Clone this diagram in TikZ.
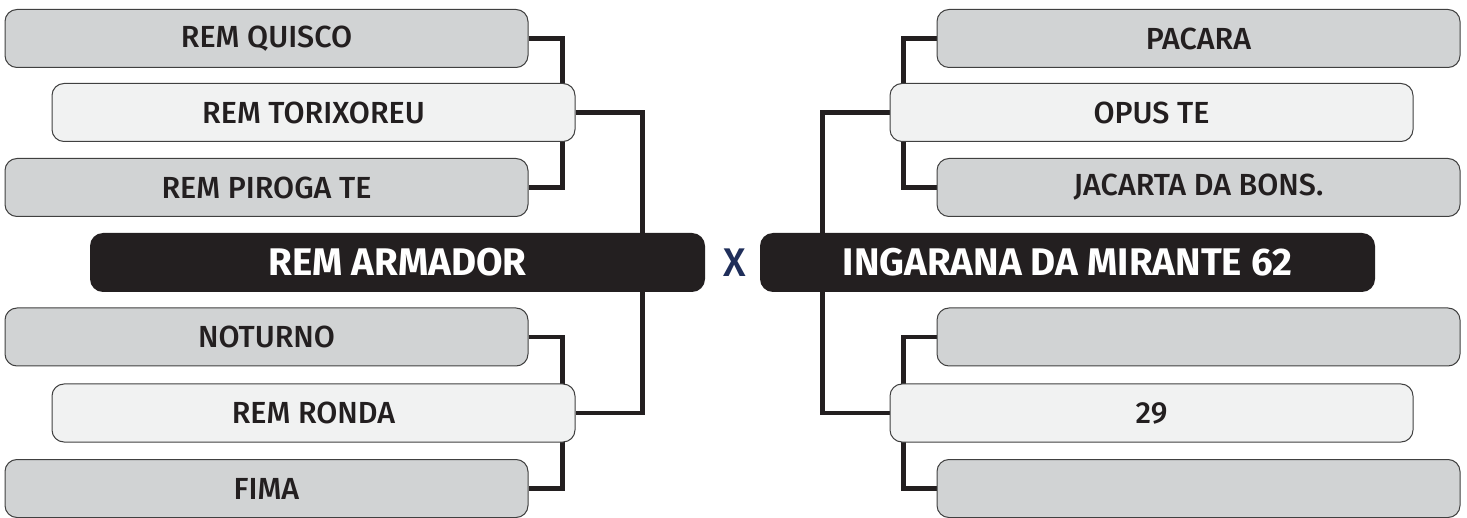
\documentclass[tikz,border=0pt]{standalone}
\usepackage{fontspec}
\setmainfont{Fira Sans}[UprightFont={* Medium},BoldFont={* Bold}]
\usetikzlibrary{positioning}
\usetikzlibrary{backgrounds}
\definecolor{cinza}{HTML}{D1D3D4}
\definecolor{claro}{HTML}{F1F2F2}
\definecolor{preto}{HTML}{231F20}
\definecolor{marinho}{HTML}{1F2E5A}
\tikzset{
  caixa/.style={draw=black!75,line width=1pt,rounded corners=12pt,
    minimum width=523pt,minimum height=58pt,inner sep=0pt,
    font=\fontsize{30.5}{35}\selectfont,text=preto},
  cinzabox/.style={caixa,fill=cinza},
  clarobox/.style={caixa,fill=claro},
  finalbox/.style={rounded corners=13pt,fill=preto,minimum width=615pt,
    minimum height=59pt,inner sep=0pt,text=white,
    font=\fontsize{38.5}{44}\selectfont\bfseries},
  chave/.style={preto,line width=4.5pt}
}

\begin{document}
\begin{tikzpicture}[x=1pt,y=-1pt]
  \useasboundingbox (0,0) rectangle (1467,518);
  % lado esquerdo
  \node[cinzabox] (quisco) at (266.5,38.5) {REM QUISCO};
  \node[clarobox] (torixoreu) at (313.5,112.5) {REM TORIXOREU};
  \node[cinzabox] (piroga) at (266.5,187.5) {REM PIROGA TE};
  \node[finalbox] (armador) at (397.5,262.5) {REM ARMADOR};
  \node[cinzabox] (noturno) at (266.5,337) {NOTURNO};
  \node[clarobox] (ronda) at (313.5,413) {REM RONDA};
  \node[cinzabox] (fima) at (266.5,488.5) {FIMA};
  % lado direito
  \node[cinzabox] (pacara) at (1198.5,38.5) {PACARA};
  \node[clarobox] (opus) at (1151.5,112.5) {OPUS TE};
  \node[cinzabox] (jacarta) at (1198.5,187.5) {JACARTA DA BONS.};
  \node[finalbox] (ingarana) at (1067.5,262.5) {INGARANA DA MIRANTE 62};
  \node[cinzabox] (vazioA) at (1198.5,337) {};
  \node[clarobox] (vintenove) at (1151.5,413) {29};
  \node[cinzabox] (vazioB) at (1198.5,488.5) {};
  \node[text=marinho,font=\fontsize{40}{44}\selectfont] (versus) at (734.5,263) {X};
  \begin{scope}[on background layer]
    \draw[chave] (quisco.east) -- ++(34,0) |- (piroga.east);
    \draw[chave] (noturno.east) -- ++(34,0) |- (fima.east);
    \draw[chave] (torixoreu.east) -- ++(67,0) |- (ronda.east);
    \draw[chave] (pacara.west) -- ++(-33,0) |- (jacarta.west);
    \draw[chave] (vazioA.west) -- ++(-33,0) |- (vazioB.west);
    \draw[chave] (opus.west) -- ++(-67,0) |- (vintenove.west);
  \end{scope}
\end{tikzpicture}
\end{document}
